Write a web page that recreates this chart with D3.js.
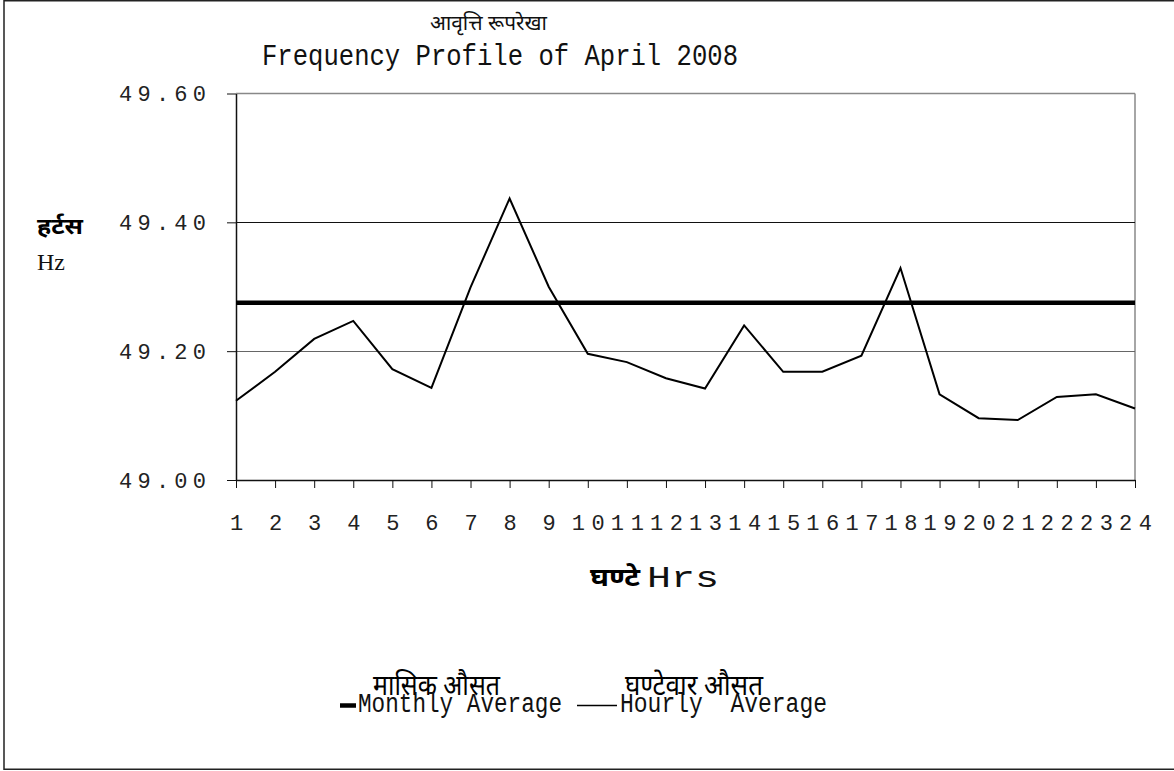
<!DOCTYPE html>
<html>
<head>
<meta charset="utf-8">
<script src="https://cdn.jsdelivr.net/npm/d3@7"></script>
<style>
  html, body { margin: 0; padding: 0; background: #fff; }
  svg { display: block; }
</style>
</head>
<body>
<svg id="chart" width="1174" height="771"></svg>
<script>
// ---- Data ----
const hours = ["1","2","3","4","5","6","7","8","9","10","11","12","13","14","15","16","17","18","19","20","21","22","23","24"];
const hourlyAverage = [49.123, 49.168, 49.219, 49.247, 49.172, 49.143, 49.299, 49.437, 49.300, 49.196, 49.183, 49.158,
                       49.142, 49.240, 49.168, 49.168, 49.193, 49.329, 49.133, 49.096, 49.093, 49.129, 49.133, 49.111];
const monthlyAverageValue = 49.275;
const monthlyAverage = hours.map(() => monthlyAverageValue);
const yTicks = [49.00, 49.20, 49.40, 49.60];
const yGrid = [49.20, 49.40];

const titleHindi = "आवृत्ति रूपरेखा";
const titleEnglish = "Frequency Profile of April 2008";
const yTitleHindi = "हर्टस";
const yTitleEnglish = "Hz";
const xTitleHindi = "घण्टे";
const xTitleEnglish = "Hrs";
const legendHindi = ["मासिक औसत", "घण्टेवार औसत"];
const legendEnglish = ["Monthly Average", "Hourly  Average"];

// ---- Layout ----
const svg = d3.select("#chart");
const L = 236, R = 1135, T = 93.5, B = 480;
const mono = "'Liberation Mono', 'Courier New', monospace";
const deva = "'Noto Sans Devanagari', 'Lohit Devanagari', 'Mangal', 'Noto Serif Devanagari', 'FreeSans', sans-serif";

const x = d3.scalePoint().domain(hours).range([L, R]);
const y = d3.scaleLinear().domain([49.0, 49.6]).range([B, T]);

// outer border
svg.append("rect").attr("x", 4).attr("y", 0.75).attr("width", 1180).attr("height", 768.5)
  .attr("fill", "#fff").attr("stroke", "#222").attr("stroke-width", 1.5);

// plot frame (top and right grey)
svg.append("line").attr("x1", L).attr("x2", R).attr("y1", T).attr("y2", T).attr("stroke", "#888").attr("stroke-width", 1.5);
svg.append("line").attr("x1", R).attr("x2", R).attr("y1", T).attr("y2", B).attr("stroke", "#888").attr("stroke-width", 1.5);

// gridlines
svg.append("g").selectAll("line").data(yGrid).join("line")
  .attr("x1", L).attr("x2", R)
  .attr("y1", d => Math.round(y(d)) + 0.5).attr("y2", d => Math.round(y(d)) + 0.5)
  .attr("stroke", (d, i) => i === 0 ? "#666" : "#111").attr("stroke-width", 1);

// y axis
const yAxis = svg.append("g").attr("transform", `translate(${L},0)`)
  .call(d3.axisLeft(y).tickValues(yTicks).tickSize(9).tickSizeOuter(0).tickFormat(d3.format(".2f")));
yAxis.select(".domain").attr("stroke", "#111").attr("stroke-width", 1.5);
yAxis.selectAll(".tick line").attr("stroke", "#111");
yAxis.selectAll(".tick text")
  .attr("x", -117).attr("text-anchor", "start").attr("dy", "0.33em")
  .attr("font-family", mono).attr("font-size", 22).attr("fill", "#222")
  .attr("textLength", 87).attr("lengthAdjust", "spacing");

// x axis
const xAxis = svg.append("g").attr("transform", `translate(0,${B})`)
  .call(d3.axisBottom(x).tickSize(8).tickSizeOuter(0));
xAxis.select(".domain").attr("stroke", "#111").attr("stroke-width", 1.5);
xAxis.selectAll(".tick line").attr("stroke", "#111");
xAxis.selectAll(".tick text")
  .attr("y", 50).attr("dy", 0)
  .attr("font-family", mono).attr("font-size", 22).attr("fill", "#222")
  .each(function(d) { if (d.length > 1) d3.select(this).attr("textLength", 33).attr("lengthAdjust", "spacing"); });

// series
const line = d3.line().x((d, i) => x(hours[i])).y(d => y(d));
svg.append("path").datum(monthlyAverage).attr("d", line)
  .attr("fill", "none").attr("stroke", "#000").attr("stroke-width", 4.5);
svg.append("path").datum(hourlyAverage).attr("d", line)
  .attr("fill", "none").attr("stroke", "#000").attr("stroke-width", 2).attr("stroke-linejoin", "miter");

// titles
svg.append("text").attr("x", 430).attr("y", 30).text(titleHindi)
  .attr("font-family", deva).attr("font-size", 21).attr("fill", "#111")
  .attr("textLength", 117).attr("lengthAdjust", "spacingAndGlyphs");
svg.append("text").attr("x", 262).attr("y", 65).text(titleEnglish)
  .attr("font-family", mono).attr("font-size", 30).attr("fill", "#111")
  .attr("textLength", 476).attr("lengthAdjust", "spacingAndGlyphs");

// y title
svg.append("text").attr("x", 37).attr("y", 234).text(yTitleHindi)
  .attr("font-family", deva).attr("font-weight", "bold").attr("font-size", 23).attr("fill", "#000")
  .attr("textLength", 46).attr("lengthAdjust", "spacingAndGlyphs");
svg.append("text").attr("x", 37).attr("y", 270).text(yTitleEnglish)
  .attr("font-family", "'Liberation Serif', 'Times New Roman', serif").attr("font-size", 24).attr("fill", "#111");

// x title
svg.append("text").attr("x", 590).attr("y", 586).text(xTitleHindi)
  .attr("font-family", deva).attr("font-weight", "bold").attr("font-size", 25).attr("fill", "#000")
  .attr("textLength", 50).attr("lengthAdjust", "spacingAndGlyphs");
svg.append("text").attr("x", 647).attr("y", 587).text(xTitleEnglish)
  .attr("font-family", mono).attr("font-size", 29).attr("fill", "#111")
  .attr("textLength", 72).attr("lengthAdjust", "spacingAndGlyphs");

// legend
const legend = [
  { sw: 4.5, x1: 340, x2: 356, hx: 373, hw: 127, ex: 358, ew: 204 },
  { sw: 1.5, x1: 577, x2: 617, hx: 625, hw: 138, ex: 620, ew: 207 }
];
legend.forEach((l, i) => {
  svg.append("line").attr("x1", l.x1).attr("x2", l.x2).attr("y1", 705.5).attr("y2", 705.5)
    .attr("stroke", "#000").attr("stroke-width", l.sw);
  svg.append("text").attr("x", l.hx).attr("y", 695).text(legendHindi[i])
    .attr("font-family", deva).attr("font-size", 29).attr("fill", "#000")
    .attr("textLength", l.hw).attr("lengthAdjust", "spacingAndGlyphs");
  svg.append("text").attr("x", l.ex).attr("y", 712).text(legendEnglish[i])
    .attr("font-family", mono).attr("font-size", 27).attr("fill", "#111")
    .attr("textLength", l.ew).attr("lengthAdjust", "spacingAndGlyphs")
    .style("white-space", "pre").attr("xml:space", "preserve");
});
</script>
</body>
</html>
